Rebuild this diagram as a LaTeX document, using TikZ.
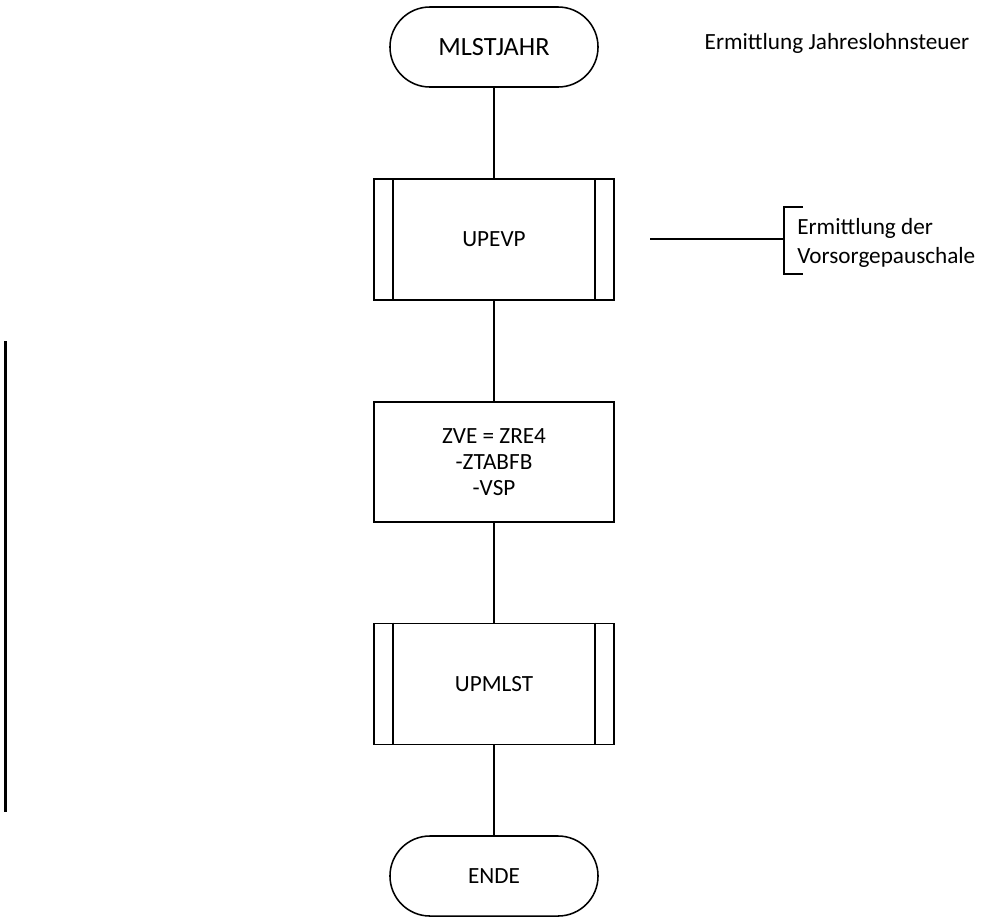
\documentclass[tikz,border=0pt]{standalone}
\usepackage{fontspec}
\setmainfont{Carlito}

\tikzset{
  flow/.style={line width=1.1pt},
  terminal/.style={draw, flow, rounded corners=1cm, minimum width=5.2cm,
    minimum height=2cm, font=\fontsize{16.5}{19}\selectfont},
  process/.style={draw, flow, minimum width=6cm, minimum height=3cm,
    align=center, font=\fontsize{16.5}{18.5}\selectfont},
  subproc/.style={process, minimum height=3.025cm},
  remark/.style={align=left, font=\fontsize{16.5}{20.6}\selectfont}
}

\begin{document}
\begin{tikzpicture}[x=0.025cm, y=-0.025cm]
   \useasboundingbox (0,0) rectangle (984,923);

   \node[terminal, font=\fontsize{18.7}{21}\selectfont] (start) at (494,47) {MLSTJAHR};
   \node[remark] (title) at (837,43) {Ermittlung Jahreslohnsteuer};

   \node[subproc] (upevp) at (494,239.5) {UPEVP};
   \draw[flow] ([xshift=0.5cm]upevp.north west) -- ([xshift=0.5cm]upevp.south west);
   \draw[flow] ([xshift=-0.5cm]upevp.north east) -- ([xshift=-0.5cm]upevp.south east);

   \node[process] (zve) at (494,462) {ZVE = ZRE4\\-ZTABFB\\-VSP};

   \node[subproc] (upmlst) at (494,684) {UPMLST};
   \draw[flow] ([xshift=0.5cm]upmlst.north west) -- ([xshift=0.5cm]upmlst.south west);
   \draw[flow] ([xshift=-0.5cm]upmlst.north east) -- ([xshift=-0.5cm]upmlst.south east);

   \node[terminal] (ende) at (494,876) {ENDE};

   \draw[flow] (start) -- (upevp);
   \draw[flow] (upevp) -- (zve);
   \draw[flow] (zve) -- (upmlst);
   \draw[flow] (upmlst) -- (ende);

   % Anmerkung zu UPEVP
   \coordinate (notefree) at (650,239);
   \coordinate (brk) at (784,239);
   \node[remark, anchor=west, inner sep=0pt] (vspnote) at (797,243) {Ermittlung der\\Vorsorgepauschale};
   \draw[flow] (notefree) -- (brk);
   \draw[flow] (803,207) -- (784,207) -- (784,274) -- (803,274);

   \draw[line width=2.2pt] (5.5,341) -- (5.5,812);
\end{tikzpicture}
\end{document}
